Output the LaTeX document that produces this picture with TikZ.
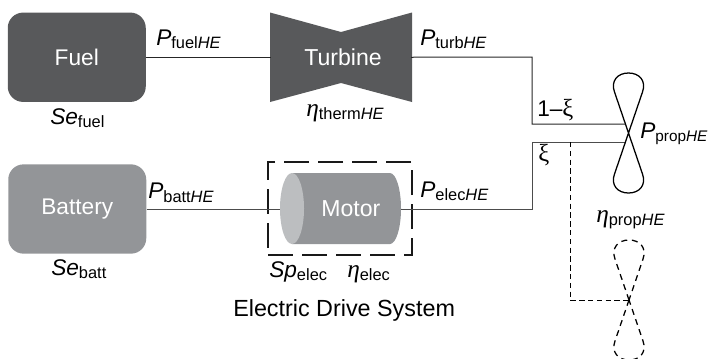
\documentclass[tikz,border=0pt]{standalone}
\usepackage{fontspec}
\setmainfont{Liberation Sans}
\newfontfamily\etafont{Liberation Serif}
\newcommand{\bigsz}{\fontsize{17}{20}\selectfont}
\newcommand{\subsz}{\fontsize{12.3}{14}\selectfont}
\newcommand{\lowsub}[2]{\raisebox{-2.8pt}{\subsz #1\textit{#2}}}
\newcommand{\qty}[3]{{\bigsz\textit{#1}}\lowsub{#2}{#3}}
\newcommand{\etaq}[2]{{\fontsize{19}{20}\selectfont\etafont\textit{η}}\lowsub{#1}{#2}}
\newcommand{\xisym}{{\fontsize{18.5}{20}\selectfont\etafont ξ}}
\tikzset{
  blockbox/.style={rounded corners=11.5pt,minimum width=103.5pt,minimum height=67pt,inner sep=0,text=white,font=\bigsz},
  hollow/.style={inner sep=0,text=white,font=\fontsize{17.3}{20}\selectfont},
  lab/.style={anchor=base west,inner sep=0},
  wire/.style={line width=0.75pt,draw=black!85},
  softwire/.style={line width=0.75pt,draw=black!70},
  dashwire/.style={line width=0.7pt,draw=black,dash pattern=on 4pt off 2.6pt},
  bladeline/.style={line width=0.95pt,draw=black},
  dashblade/.style={line width=0.95pt,draw=black,dash pattern=on 4.5pt off 3.5pt},
  drivebox/.style={line width=1.5pt,draw=black!90,dash pattern=on 19pt off 6.5pt,inner sep=0,minimum width=108pt,minimum height=69.75pt}
}
\definecolor{darkfill}{HTML}{58595B}
\definecolor{midfill}{HTML}{939598}
\definecolor{lightfill}{HTML}{BCBEC0}
\newcommand{\blade}[3]{%
  \begin{scope}[shift={(#1,#2)}]
  \draw[#3] (0,0) -- (-14,-41) .. controls (-18,-52) and (-11,-60) .. (0,-60)
     .. controls (11,-60) and (18,-52) .. (14,-41) -- (0,0);
  \draw[#3] (0,0) -- (-14,41) .. controls (-18,52) and (-11,60) .. (0,60)
     .. controls (11,60) and (18,52) .. (14,41) -- (0,0);
  \end{scope}}
\begin{document}
\begin{tikzpicture}[x=0.75pt,y=-0.75pt]
\useasboundingbox (0,0) rectangle (709,358);
% shapes
\node[blockbox,fill=darkfill] (fuel) at (76.75,57.25) {Fuel};
\node[blockbox,fill=midfill] (battery) at (77.25,209) {Battery};
\fill[darkfill] (270,12.5) -- (341,32) -- (412,12.5) -- (412,102) -- (341,83) -- (270,102) -- cycle;
\node[hollow,minimum width=106.5pt,minimum height=67pt] (turbine) at (343,57.25) {Turbine};
% motor
\fill[midfill] (292,173) -- (390,173) .. controls (396,173) and (401,189) .. (401,208.5)
   .. controls (401,228) and (396,244) .. (390,244) -- (292,244) -- cycle;
\fill[lightfill] (292,208.5) ellipse [x radius=12,y radius=35.5];
\node[hollow,minimum width=90pt,minimum height=53pt] (motor) at (341.5,208.5) {\hspace{14pt}Motor};
\node[drivebox] (drive) at (340,208.5) {};
\coordinate (hub) at (628.5,133);
\coordinate (hubtwo) at (629,300);
\coordinate (topin) at (625,124);
\coordinate (botin) at (625,142);
\coordinate (split) at (532,57);
\coordinate (splitb) at (532,209);
\coordinate (dashstart) at (570,142);
% connectors
\draw[wire] (fuel.east) -- (271,57.25);
\draw[wire] (411,57.25) -- (split) -- (532,124) -- (topin);
\draw[softwire] (battery.east) -- (280,209);
\draw[softwire] (401,209) -- (splitb) -- (532,142) -- (botin);
\draw[dashwire] (dashstart) |- (hubtwo);
% propellers
\blade{628.5}{133}{bladeline}
\begin{scope}
\clip (600,235) rectangle (660,358);
\blade{629}{300}{dashblade}
\end{scope}
% labels
\node[lab] (lfuel) at (156,45) {\qty{P}{fuel}{HE}};
\node[lab] (lturb) at (420,45) {\qty{P}{turb}{HE}};
\node[lab] (lbatt) at (148,198.5) {\qty{P}{batt}{HE}};
\node[lab] (lelec) at (420,197) {\qty{P}{elec}{HE}};
\node[lab] (lprop) at (640,138) {{\bigsz\textit{P}}\raisebox{-2.8pt}{\fontsize{11.5}{14}\selectfont prop\textit{HE}}};
\node[lab] (lsefuel) at (50,124) {\qty{Se}{fuel}{}};
\node[lab] (lsebatt) at (51,275) {\qty{Se}{batt}{}};
\node[lab] (lsp) at (269,277) {\qty{Sp}{elec}{}};
\node[lab] (letaelec) at (347,277) {\etaq{elec}{}};
\node[lab] (letatherm) at (306,116) {\etaq{therm}{HE}};
\node[lab] (letaprop) at (596,222) {\etaq{prop}{HE}};
\node[lab] (ldrive) at (233,316) {\fontsize{17.5}{20}\selectfont Electric Drive System};
\node[lab] (lone) at (537,116) {\bigsz 1–\xisym};
\node[lab] (lxi) at (538,161) {\xisym};
\end{tikzpicture}
\end{document}
